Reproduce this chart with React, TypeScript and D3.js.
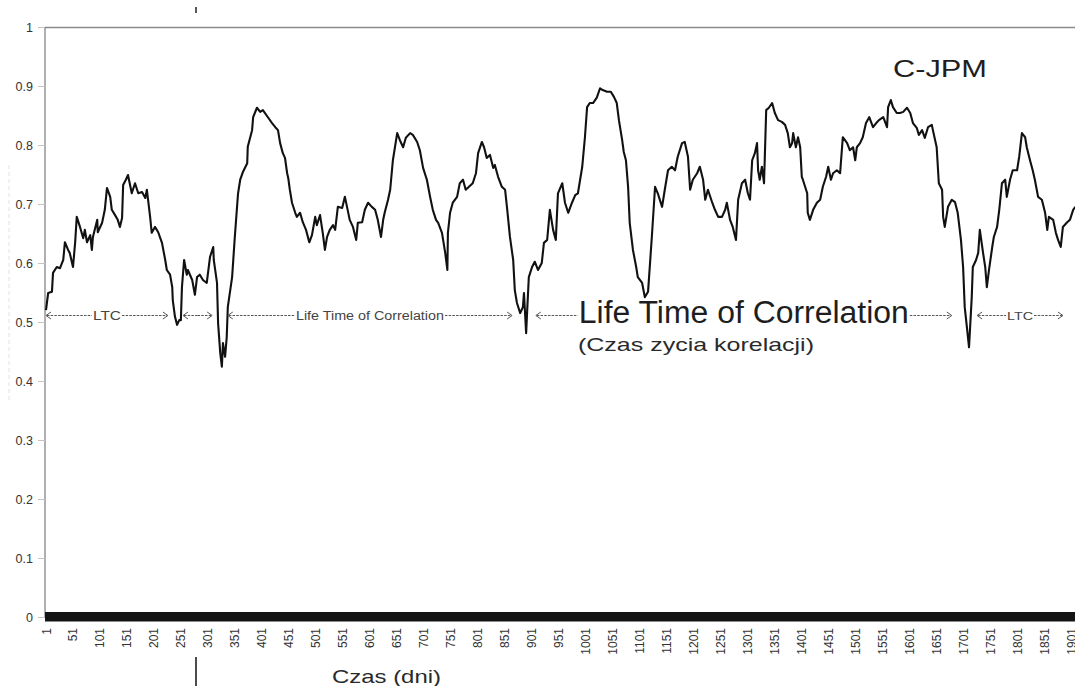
import React from "react";
import * as d3 from "d3";

// Rolling correlation C-JPM, sampled by trading day
const days = [
  1, 5, 12, 14, 21, 27, 33, 36, 42, 45, 51, 55, 58, 64, 70, 73, 77, 83, 86, 88, 96, 97, 105, 110, 114, 120, 123, 129, 134, 138,
  142, 144, 149, 153, 160, 166, 172, 179, 185, 188, 194, 197, 203, 209, 216, 222, 225, 231, 235, 236, 240, 244, 248, 251, 253, 257,
  262, 264, 272, 277, 281, 286, 292, 299, 305, 311, 312, 318, 320, 324, 327, 329, 333, 336, 338, 346, 351, 357, 361, 366, 374, 375,
  383, 385, 392, 398, 403, 413, 420, 426, 431, 435, 440, 444, 448, 450, 453, 457, 463, 466, 472, 477, 483, 489, 494, 500, 503, 509,
  514, 518, 522, 527, 533, 537, 542, 550, 555, 559, 564, 570, 576, 579, 587, 592, 598, 605, 611, 616, 622, 626, 629, 635, 639, 644,
  652, 657, 663, 668, 676, 681, 689, 694, 700, 707, 713, 718, 724, 728, 735, 741, 745, 746, 750, 755, 763, 768, 774, 779, 785, 792,
  798, 802, 809, 813, 818, 824, 830, 833, 839, 846, 852, 856, 861, 867, 870, 874, 880, 885, 887, 891, 893, 896, 902, 907, 913, 920,
  924, 930, 935, 941, 946, 950, 958, 963, 969, 976, 982, 987, 995, 1000, 1004, 1009, 1015, 1022, 1028, 1033, 1041, 1048, 1054, 1059,
  1063, 1069, 1072, 1076, 1080, 1083, 1089, 1095, 1098, 1106, 1111, 1117, 1124, 1130, 1135, 1143, 1148, 1154, 1161, 1167, 1172, 1180,
  1185, 1191, 1195, 1200, 1208, 1213, 1219, 1223, 1228, 1236, 1241, 1247, 1254, 1260, 1263, 1269, 1274, 1280, 1284, 1291, 1297, 1302,
  1306, 1310, 1315, 1319, 1321, 1324, 1328, 1332, 1336, 1341, 1347, 1352, 1358, 1365, 1371, 1376, 1380, 1384, 1386, 1391, 1395, 1399,
  1402, 1404, 1412, 1413, 1417, 1423, 1430, 1436, 1441, 1447, 1451, 1456, 1460, 1467, 1473, 1478, 1486, 1491, 1497, 1501, 1504, 1510,
  1515, 1521, 1527, 1534, 1540, 1545, 1553, 1560, 1562, 1567, 1571, 1578, 1584, 1590, 1597, 1603, 1608, 1615, 1619, 1625, 1630, 1636,
  1643, 1645, 1652, 1656, 1662, 1664, 1667, 1673, 1680, 1686, 1691, 1697, 1701, 1704, 1708, 1712, 1717, 1719, 1725, 1729, 1732, 1738,
  1742, 1745, 1749, 1755, 1758, 1764, 1768, 1773, 1779, 1782, 1788, 1793, 1801, 1805, 1810, 1816, 1819, 1825, 1830, 1834, 1840, 1847,
  1853, 1857, 1860, 1868, 1873, 1877, 1882, 1886, 1893, 1899, 1905, 1909,
];

const corr = [
  0.521, 0.55, 0.552, 0.584, 0.594, 0.592, 0.606, 0.636, 0.623, 0.618, 0.594, 0.635, 0.679, 0.662, 0.643, 0.657, 0.636, 0.648, 0.623, 0.645,
  0.674, 0.653, 0.669, 0.691, 0.728, 0.713, 0.691, 0.682, 0.674, 0.662, 0.677, 0.733, 0.742, 0.75, 0.719, 0.736, 0.719, 0.721, 0.711, 0.725,
  0.679, 0.652, 0.662, 0.653, 0.635, 0.606, 0.589, 0.581, 0.56, 0.538, 0.51, 0.496, 0.504, 0.504, 0.56, 0.606, 0.581, 0.589, 0.572, 0.547,
  0.577, 0.581, 0.572, 0.567, 0.611, 0.628, 0.606, 0.567, 0.499, 0.448, 0.425, 0.465, 0.442, 0.475, 0.526, 0.577, 0.645, 0.719, 0.742, 0.755,
  0.77, 0.798, 0.826, 0.848, 0.864, 0.857, 0.86, 0.847, 0.838, 0.831, 0.826, 0.804, 0.787, 0.779, 0.753, 0.745, 0.725, 0.703, 0.686, 0.679,
  0.686, 0.67, 0.657, 0.636, 0.648, 0.679, 0.665, 0.682, 0.652, 0.623, 0.645, 0.657, 0.665, 0.657, 0.696, 0.694, 0.713, 0.696, 0.674, 0.662,
  0.64, 0.669, 0.67, 0.691, 0.703, 0.696, 0.691, 0.674, 0.645, 0.674, 0.687, 0.708, 0.725, 0.775, 0.821, 0.809, 0.797, 0.813, 0.821, 0.818,
  0.806, 0.792, 0.762, 0.742, 0.713, 0.691, 0.674, 0.669, 0.652, 0.618, 0.589, 0.652, 0.686, 0.703, 0.713, 0.736, 0.742, 0.725, 0.73, 0.736,
  0.753, 0.787, 0.806, 0.797, 0.779, 0.784, 0.762, 0.767, 0.747, 0.73, 0.725, 0.691, 0.645, 0.606, 0.555, 0.533, 0.516, 0.526, 0.55, 0.482,
  0.521, 0.577, 0.594, 0.603, 0.589, 0.601, 0.635, 0.64, 0.691, 0.657, 0.64, 0.719, 0.736, 0.703, 0.686, 0.703, 0.716, 0.719, 0.764, 0.814,
  0.865, 0.872, 0.872, 0.881, 0.897, 0.894, 0.891, 0.891, 0.882, 0.872, 0.843, 0.809, 0.789, 0.775, 0.73, 0.669, 0.623, 0.594, 0.577, 0.567,
  0.543, 0.552, 0.645, 0.73, 0.719, 0.696, 0.725, 0.758, 0.764, 0.758, 0.781, 0.804, 0.806, 0.781, 0.725, 0.742, 0.753, 0.764, 0.742, 0.708,
  0.725, 0.703, 0.691, 0.679, 0.679, 0.691, 0.703, 0.674, 0.662, 0.64, 0.708, 0.736, 0.742, 0.719, 0.708, 0.775, 0.787, 0.804, 0.758, 0.742,
  0.764, 0.736, 0.86, 0.864, 0.872, 0.855, 0.843, 0.84, 0.835, 0.821, 0.797, 0.804, 0.821, 0.797, 0.814, 0.797, 0.747, 0.742, 0.719, 0.686,
  0.674, 0.691, 0.703, 0.708, 0.73, 0.747, 0.764, 0.742, 0.753, 0.758, 0.753, 0.814, 0.804, 0.792, 0.797, 0.775, 0.797, 0.804, 0.814, 0.838,
  0.848, 0.831, 0.838, 0.843, 0.848, 0.831, 0.865, 0.877, 0.865, 0.855, 0.855, 0.857, 0.864, 0.855, 0.838, 0.83, 0.818, 0.826, 0.813, 0.831,
  0.835, 0.826, 0.797, 0.736, 0.725, 0.679, 0.662, 0.696, 0.708, 0.704, 0.686, 0.64, 0.594, 0.526, 0.492, 0.458, 0.543, 0.594, 0.606, 0.618,
  0.657, 0.618, 0.594, 0.56, 0.589, 0.628, 0.645, 0.662, 0.691, 0.736, 0.742, 0.713, 0.742, 0.758, 0.758, 0.781, 0.821, 0.814, 0.797, 0.775,
  0.758, 0.742, 0.713, 0.708, 0.686, 0.657, 0.679, 0.674, 0.652, 0.64, 0.628, 0.662, 0.669, 0.674, 0.691, 0.696,
];

const xTickDays = [
  1, 51, 101, 151, 201, 251, 301, 351, 401, 451, 501, 551, 601, 651, 701, 751, 801, 851, 901, 951, 1001, 1051, 1101, 1151, 1201,
  1251, 1301, 1351, 1401, 1451, 1501, 1551, 1601, 1651, 1701, 1751, 1801, 1851, 1901,
];
const yTickValues = [0, 0.1, 0.2, 0.3, 0.4, 0.5, 0.6, 0.7, 0.8, 0.9, 1];
const yTickLabels = ["0", "0.1", "0.2", "0.3", "0.4", "0.5", "0.6", "0.7", "0.8", "0.9", "1"];

const seriesName = "C-JPM";
const xAxisTitle = "Czas (dni)";

// Correlation lifetime spans, in days
const spanFrom = [1, 255, 338, 909, 1727];
const spanTo = [227, 309, 865, 1680, 1886];
const spanLabel = ["LTC", "", "Life Time of Correlation", "Life Time of Correlation", "LTC"];
const spanNote = "(Czas zycia korelacji)";

const W = 1075;
const H = 686;
const FONT = "'Liberation Sans', Arial, sans-serif";

// label geometry per span: font size, drawn width, baseline offset
const spanLook = [
  { size: 12, width: 28, dy: 4 },
  { size: 0, width: 0, dy: 0 },
  { size: 12.5, width: 148, dy: 4.5 },
  { size: 31, width: 330, dy: 7 },
  { size: 11.5, width: 26, dy: 4 },
];

export default function App() {
  const x = d3.scaleLinear().domain([1, 1901]).range([46, 1071]);
  const y = d3.scaleLinear().domain([0, 1]).range([617.5, 27.5]);

  const pts = days.map((d, i) => [x(d), y(corr[i])] as [number, number]);
  const path = d3.line().curve(d3.curveLinear)(pts) || "";

  const left = 45;
  const arrowY = 315.5;

  const head = (tx: number, dir: number) =>
    `M${tx + dir * 5},${arrowY - 3.5}L${tx},${arrowY}L${tx + dir * 5},${arrowY + 3.5}`;

  return (
    <svg
      width={W}
      height={H}
      style={{ position: "absolute", left: 0, top: 0, background: "#fff" }}
      fontFamily={FONT}
    >
      <rect x={0} y={0} width={W} height={H} fill="#fff" />

      {/* plot frame */}
      <line x1={left} x2={W} y1={y(1)} y2={y(1)} stroke="#8a8a8a" strokeWidth={1.3} />
      <line x1={left} x2={left} y1={y(1)} y2={y(0)} stroke="#7a7a7a" strokeWidth={1.2} />
      <line x1={9} x2={9} y1={165} y2={400} stroke="#e2e2e2" strokeDasharray="4,3" />

      {/* y axis */}
      {yTickValues.map((v, i) => (
        <g key={"y" + i}>
          <line x1={38} x2={left} y1={y(v)} y2={y(v)} stroke="#c4c4c4" strokeWidth={1} />
          <text x={33} y={y(v) + 4.5} textAnchor="end" fontSize={12.5} fill="#333">
            {yTickLabels[i]}
          </text>
        </g>
      ))}

      {/* correlation series */}
      <path d={path} fill="none" stroke="#111" strokeWidth={2.1} strokeLinejoin="round" />

      {/* zero baseline */}
      <rect x={left} y={y(0) - 5.5} width={W - left} height={9.5} fill="#141414" />

      {/* x axis labels */}
      {xTickDays.map((d) => (
        <text
          key={"x" + d}
          transform={`translate(${x(d) + 4.5},628) rotate(-90)`}
          textAnchor="end"
          fontSize={12}
          fill="#333"
        >
          {d}
        </text>
      ))}

      {/* lifetime spans */}
      {spanFrom.map((a, i) => {
        const x0 = x(a);
        const x1 = x(spanTo[i]);
        const look = spanLook[i];
        const cx = (x0 + x1) / 2;
        const hasText = spanLabel[i].length > 0;
        const t0 = hasText ? cx - look.width / 2 - 1 : cx;
        const t1 = hasText ? cx + look.width / 2 + 1 : cx;
        return (
          <g key={"s" + i}>
            <line x1={x0 + 1} x2={t0} y1={arrowY} y2={arrowY} stroke="#555" strokeWidth={1} strokeDasharray="2.5,1.2" />
            <line x1={t1} x2={x1 - 1} y1={arrowY} y2={arrowY} stroke="#555" strokeWidth={1} strokeDasharray="2.5,1.2" />
            <path d={head(x0, 1)} fill="none" stroke="#555" strokeWidth={1} />
            <path d={head(x1, -1)} fill="none" stroke="#555" strokeWidth={1} />
            {hasText && (
              <text
                x={cx - look.width / 2}
                y={arrowY + look.dy}
                fontSize={look.size}
                textLength={look.width}
                lengthAdjust="spacingAndGlyphs"
                fill={i === 3 ? "#1e1e1e" : "#444"}
              >
                {spanLabel[i]}
              </text>
            )}
          </g>
        );
      })}
      <text x={578} y={351} fontSize={19} textLength={236} lengthAdjust="spacingAndGlyphs" fill="#2a2a2a">
        {spanNote}
      </text>

      {/* series name */}
      <text x={893} y={77} fontSize={23.5} textLength={94} lengthAdjust="spacingAndGlyphs" fill="#1e1e1e">
        {seriesName}
      </text>

      {/* axis title */}
      <text x={332} y={683} fontSize={19} textLength={109} lengthAdjust="spacingAndGlyphs" fill="#2a2a2a">
        {xAxisTitle}
      </text>

      {/* edge marks */}
      <line x1={196} x2={196} y1={7} y2={13} stroke="#222" strokeWidth={1.5} />
      <line x1={196} x2={196} y1={657} y2={686} stroke="#111" strokeWidth={1.5} />
    </svg>
  );
}
